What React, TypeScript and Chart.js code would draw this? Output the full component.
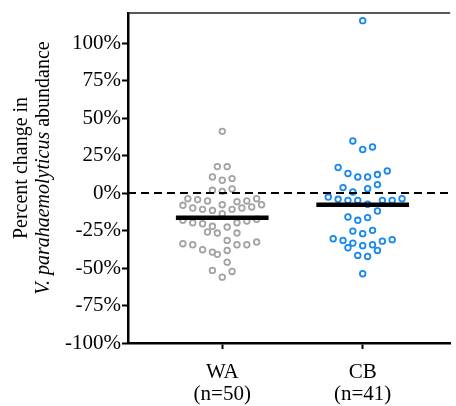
import React, { useEffect, useRef } from 'react';
import { Chart, registerables } from 'chart.js';

Chart.register(...registerables);

// ---- data ----
const categories = ['WA', 'CB'];

// percent change values (WA group)
const waValues = [
  41.1, 17.6, 17.6, 10.7, 8.5, 9.6, 1.8, 1.1, 2.7,
  -3.8, -4.4, -5.3, -5.8, -5.3, -3.8,
  -8.2, -10, -10.9, -11.6, -7.8, -10.9, -10, -9.3, -7.8,
  -13.8,
  -18.2, -19.8, -20.5, -22.2, -19.8, -18.7, -17.5,
  -26, -26.7, -22.7, -26.7, -31.6,
  -33.8, -34.5, -37.8, -39.4, -40.9, -38.3, -34.5, -34.5, -32.7,
  -46.1, -51.6, -52.3, -56.1,
];
// horizontal scatter offsets (category units) of the WA dots
const waJitter = [
  0, -0.035, 0.035, -0.07, 0, 0.07, -0.07, 0, 0.07,
  -0.245, -0.175, -0.105, 0.105, 0.175, 0.245,
  -0.28, -0.21, -0.14, -0.07, 0, 0.07, 0.14, 0.21, 0.28,
  0,
  -0.28, -0.21, -0.14, -0.07, 0.105, 0.175, 0.245,
  -0.105, -0.035, 0.035, 0.105, 0.035,
  -0.28, -0.21, -0.14, -0.07, -0.035, 0.035, 0.105, 0.175, 0.245,
  0.035, -0.07, 0.07, 0,
];

// percent change values (CB group)
const cbValues = [
  114.9, 34.7, 29, 30.7,
  17, 13, 10.7, 10.7, 12.3, 14.7,
  3.6, 0.7, 2.9, 5.6,
  -2.7, -4.2, -4.9, -4.9, -7.5, -4.9, -4.9, -3.8,
  -12, -16, -18.2, -16.4,
  -25.4, -27.1, -24.9,
  -30.5, -31.6, -33.4, -36.5, -35.1, -34.5, -32.1, -31.1,
  -38.3, -41.6, -42.3, -53.8,
];
const cbJitter = [
  0, -0.07, 0, 0.07,
  -0.175, -0.105, -0.035, 0.035, 0.105, 0.175,
  -0.14, -0.07, 0.035, 0.105,
  -0.245, -0.175, -0.105, -0.035, 0.035, 0.14, 0.21, 0.28,
  0.105, -0.105, -0.035, 0.035,
  -0.07, 0, 0.07,
  -0.21, -0.14, -0.07, -0.105, 0, 0.07, 0.14, 0.21,
  0.105, -0.035, 0.035, 0,
];

const yTickValues = [-100, -75, -50, -25, 0, 25, 50, 75, 100];
const yTitleLine1 = 'Percent change in';
const yTitleItalic = 'V. parahaemolyticus';
const yTitleRest = ' abundance';

const SERIF = "'Liberation Serif', 'Times New Roman', serif";
const GREY = '#a3a3a3';
const BLUE = '#1688f0';

const groups = [
  { values: waValues, jitter: waJitter, color: GREY },
  { values: cbValues, jitter: cbJitter, color: BLUE },
];

const mean = (a: number[]) => a.reduce((s, v) => s + v, 0) / a.length;

const X_MIN = 0.329;
const X_MAX = 2.623;
const BAR_HALF = 0.33;

const extrasPlugin = {
  id: 'extras',
  afterDraw(chart: any) {
    const { ctx, chartArea } = chart;
    ctx.save();
    // top frame line
    ctx.strokeStyle = '#222';
    ctx.lineWidth = 1.5;
    ctx.beginPath();
    ctx.moveTo(chartArea.left, chartArea.top);
    ctx.lineTo(chartArea.right, chartArea.top);
    ctx.stroke();

    // y-axis title (two lines, rotated, mixed italic)
    const yc = 168;
    ctx.fillStyle = '#000';
    ctx.textBaseline = 'alphabetic';
    ctx.textAlign = 'left';
    // line 1
    ctx.save();
    ctx.translate(27, yc);
    ctx.rotate(-Math.PI / 2);
    ctx.font = `20px ${SERIF}`;
    const w1 = ctx.measureText(yTitleLine1).width;
    ctx.fillText(yTitleLine1, -w1 / 2, 0);
    ctx.restore();
    // line 2
    ctx.save();
    ctx.translate(49, yc);
    ctx.rotate(-Math.PI / 2);
    ctx.font = `italic 20px ${SERIF}`;
    const wi = ctx.measureText(yTitleItalic).width;
    ctx.font = `20px ${SERIF}`;
    const wr = ctx.measureText(yTitleRest).width;
    const start = -(wi + wr) / 2;
    ctx.font = `italic 20px ${SERIF}`;
    ctx.fillText(yTitleItalic, start, 0);
    ctx.font = `20px ${SERIF}`;
    ctx.fillText(yTitleRest, start + wi, 0);
    ctx.restore();
    ctx.restore();
  },
};

export default function App() {
  const ref = useRef<HTMLCanvasElement | null>(null);

  useEffect(() => {
    document.body.style.margin = '0';
    if (!ref.current) return;

    const pointSets: any[] = groups.map((g, gi) => ({
      type: 'scatter',
      data: g.values.map((v, i) => ({ x: gi + 1 + g.jitter[i], y: v })),
      pointRadius: 2.8,
      pointBorderWidth: 1.8,
      pointBorderColor: g.color,
      pointBackgroundColor: 'rgba(255,255,255,0)',
      borderColor: g.color,
      backgroundColor: 'rgba(255,255,255,0)',
      showLine: false,
      order: 3,
    }));

    const meanSets: any[] = groups.map((g, gi) => {
      const m = mean(g.values);
      return {
        type: 'line',
        data: [
          { x: gi + 1 - BAR_HALF, y: m },
          { x: gi + 1 + BAR_HALF, y: m },
        ],
        borderColor: '#000',
        borderWidth: 4.5,
        pointRadius: 0,
        order: 1,
      };
    });

    const zeroLine: any = {
      type: 'line',
      data: [
        { x: X_MIN, y: 0 },
        { x: X_MAX, y: 0 },
      ],
      borderColor: '#000',
      borderWidth: 2,
      borderDash: [8, 5],
      pointRadius: 0,
      order: 2,
    };

    const chart = new Chart(ref.current, {
      type: 'scatter',
      data: { datasets: [...pointSets, zeroLine, ...meanSets] },
      options: {
        animation: false,
        responsive: false,
        events: [],
        layout: { padding: { top: 13, left: 0, right: 0, bottom: 0 } },
        plugins: {
          legend: { display: false },
          tooltip: { enabled: false },
          title: { display: false },
        },
        scales: {
          x: {
            type: 'linear',
            min: X_MIN,
            max: X_MAX,
            afterBuildTicks: (s: any) => {
              s.ticks = categories.map((_, i) => ({ value: i + 1 }));
            },
            afterFit: (s: any) => {
              s.height = 63;
              s.paddingLeft = 0;
              s.paddingRight = 0;
            },
            ticks: {
              autoSkip: false,
              maxRotation: 0,
              padding: 12,
              color: '#000',
              font: { family: SERIF, size: 21, lineHeight: 1.05 },
              callback: (v: any) => {
                const i = Math.round(Number(v)) - 1;
                return [categories[i], `(n=${groups[i].values.length})`];
              },
            },
            grid: {
              display: true,
              drawOnChartArea: false,
              drawTicks: true,
              tickLength: 6,
              tickWidth: 2,
              tickColor: '#000',
            },
            border: { display: true, color: '#000', width: 2.5 },
          },
          y: {
            type: 'linear',
            min: -100,
            max: 120,
            afterBuildTicks: (s: any) => {
              s.ticks = yTickValues.map((v) => ({ value: v }));
            },
            afterFit: (s: any) => {
              s.width = 128;
              s.paddingTop = 0;
              s.paddingBottom = 0;
            },
            ticks: {
              autoSkip: false,
              padding: 1,
              color: '#000',
              font: { family: SERIF, size: 21 },
              callback: (v: any) => `${v}%`,
            },
            grid: {
              display: true,
              drawOnChartArea: false,
              drawTicks: true,
              tickLength: 6,
              tickWidth: 2,
              tickColor: '#000',
            },
            border: { display: true, color: '#000', width: 2.5 },
          },
        },
      },
      plugins: [extrasPlugin],
    });

    return () => chart.destroy();
  }, []);

  return (
    <div style={{ width: 456, height: 406, background: '#fff' }}>
      <canvas ref={ref} width={456} height={406} style={{ display: 'block' }} />
    </div>
  );
}
